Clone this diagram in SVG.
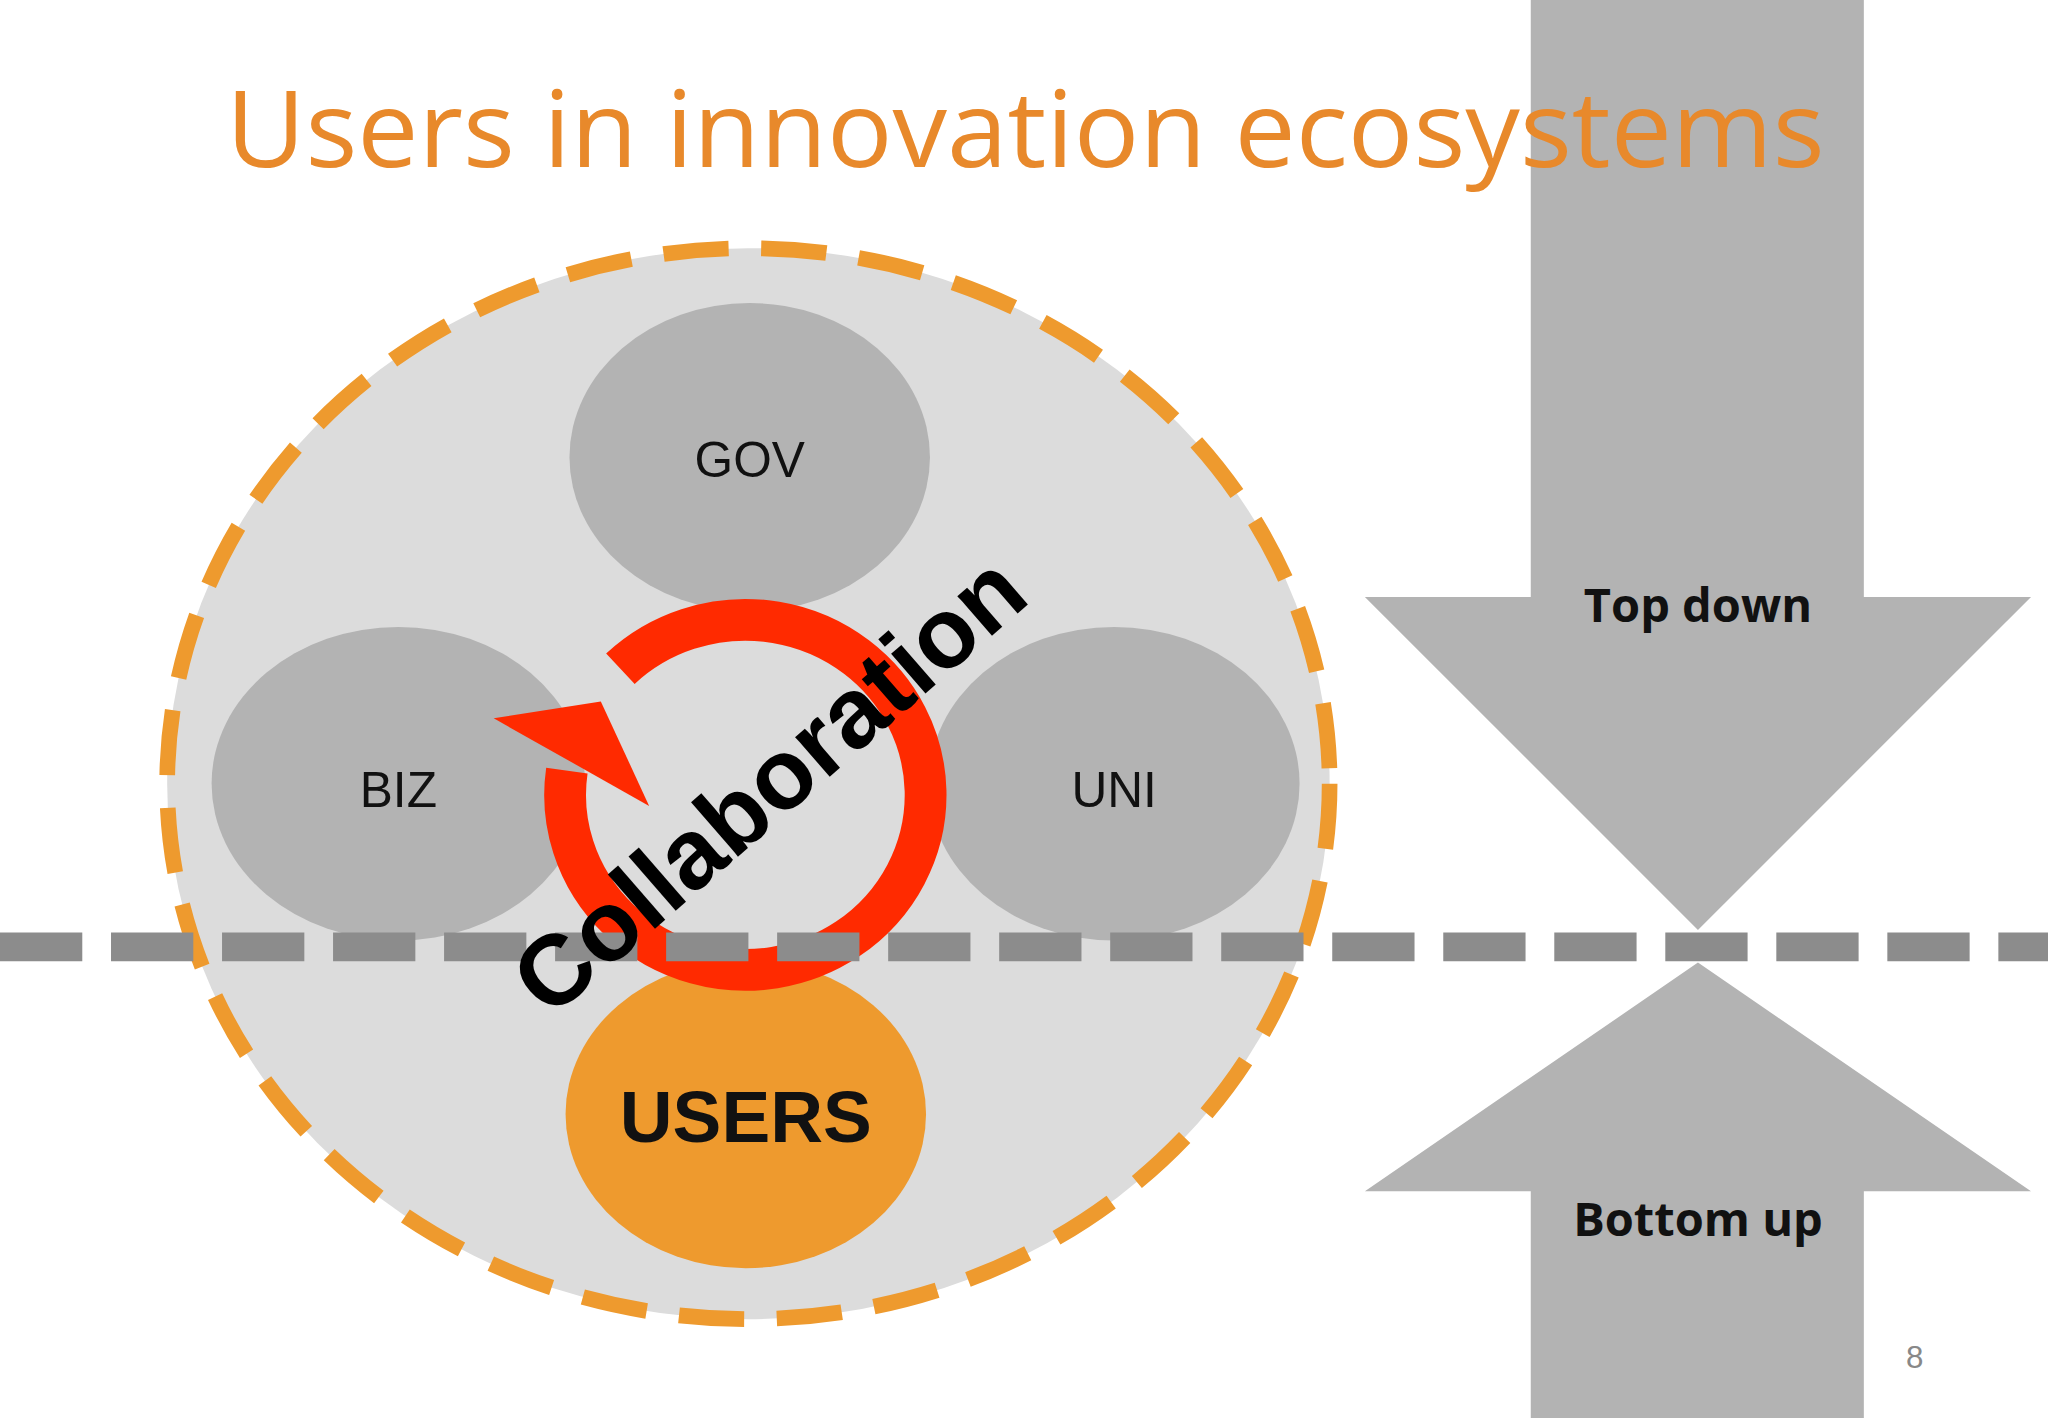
<svg xmlns="http://www.w3.org/2000/svg" width="2048" height="1418" viewBox="0 0 2048 1418">
<style>
.oval{fill:#B3B3B3}
.lbl{font-family:"Liberation Sans",Arial,sans-serif;font-size:38px;fill:#111;text-anchor:middle}
.arrowtxt{font-family:"Open Sans","Liberation Sans",sans-serif;font-weight:bold;font-size:36px;fill:#111;text-anchor:middle}
</style>
<rect width="2048" height="1418" fill="#fff"/>
<g transform="scale(1.30612)">
<g id="topdown"><polygon class="oval" points="1172,0 1427,0 1427,457 1555,457 1300,712 1045,457 1172,457"/><text class="arrowtxt" x="1300" y="476">Top down</text></g>
<g id="bottomup"><polygon class="oval" points="1300,737 1555,912 1427,912 1427,1086 1172,1086 1172,912 1045,912"/><text class="arrowtxt" x="1300" y="946">Bottom  up</text></g>
<text x="173" y="128" font-family="Open Sans,Liberation Sans,sans-serif" font-size="82" fill="#E8892B" textLength="1224" lengthAdjust="spacingAndGlyphs">Users in innovation ecosystems</text>
<g id="ecosystem"><ellipse cx="573" cy="600" rx="445" ry="410" fill="#DCDCDC" stroke="#EE9A2E" stroke-width="12" stroke-dasharray="50,25"/></g>
<g id="gov"><ellipse class="oval" cx="574" cy="350" rx="138" ry="118"/><text class="lbl" x="574" y="365">GOV</text></g>
<g id="biz"><ellipse class="oval" cx="305" cy="600" rx="143" ry="120"/><text class="lbl" x="305" y="618">BIZ</text></g>
<g id="uni"><ellipse class="oval" cx="853" cy="600" rx="142" ry="120"/><text class="lbl" x="853" y="618">UNI</text></g>
<g id="users"><ellipse cx="571" cy="853" rx="138" ry="118" fill="#EE9A2E"/><text x="571" y="874" font-family="Liberation Sans,Arial,sans-serif" font-weight="bold" font-size="56" fill="#111" text-anchor="middle">USERS</text></g>
<g id="connectors">
<path d="M475,512 A138,134 0 1 1 434,590" fill="none" stroke="#FF2A00" stroke-width="32"/>
<polygon points="378,550 460,537 497,617" fill="#FF2A00"/>
<line x1="0" y1="725" x2="1568" y2="725" stroke="#8C8C8C" stroke-width="22" stroke-dasharray="63,22"/>
</g>
<text transform="translate(588,600) rotate(-41)" x="0" y="27" font-family="Liberation Sans,Arial,sans-serif" font-weight="bold" font-size="76" fill="#000" text-anchor="middle">Collaboration</text>
<text x="1466" y="1047" font-family="Liberation Sans,sans-serif" font-size="24" fill="#888" text-anchor="middle">8</text>
</g>
</svg>
